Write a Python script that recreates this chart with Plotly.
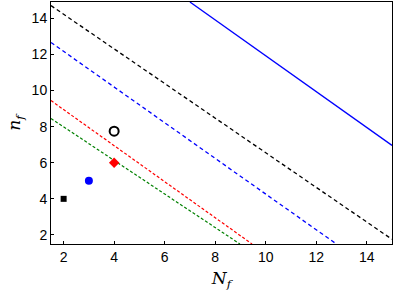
import plotly.graph_objects as go

# Boundary lines (endpoints)
line_names = ["blue_solid", "black_dash", "blue_dash", "red_dash", "green_dash"]
line_x = [[7.0, 15.0], [1.5, 15.0], [1.5, 12.8], [1.5, 9.46], [1.5, 8.98]]
line_y = [[14.9, 6.96], [14.7, 1.76], [12.66, 1.5], [9.44, 1.5], [8.45, 1.5]]
line_colors = ["#0000ff", "#000000", "#0000ff", "#ff0000", "#008000"]
line_dashes = ["solid", "4px,3px", "4px,3px", "3px,2px", "3px,2px"]
line_widths = [1.3, 1.3, 1.3, 1.2, 1.2]

# Points
pt_x = [2, 3, 4, 4]
pt_y = [4, 5, 6, 7.75]
pt_symbols = ["square", "circle", "diamond", "circle-open"]
pt_colors = ["#000000", "#0000ff", "#ff0000", "#000000"]
pt_sizes = [6, 8, 8, 9]

x_ticks = [2, 4, 6, 8, 10, 12, 14]
y_ticks = [2, 4, 6, 8, 10, 12, 14]

fig = go.Figure()
for i in range(len(line_names)):
    fig.add_trace(go.Scatter(
        x=line_x[i], y=line_y[i], mode="lines",
        line=dict(color=line_colors[i], dash=line_dashes[i], width=line_widths[i]),
        showlegend=False, hoverinfo="skip"))

for i in range(len(pt_x)):
    fig.add_trace(go.Scatter(
        x=[pt_x[i]], y=[pt_y[i]], mode="markers",
        marker=dict(symbol=pt_symbols[i], color=pt_colors[i], size=pt_sizes[i],
                    line=dict(color=pt_colors[i], width=2 if pt_symbols[i] == "circle-open" else 0)),
        showlegend=False))

axis_common = dict(
    showgrid=False, zeroline=False, showline=True, mirror=True,
    linecolor="black", linewidth=1, ticks="inside", ticklen=3, tickcolor="black",
    tickfont=dict(family="Liberation Sans, Arial, sans-serif", size=14, color="black"),
)

fig.update_layout(
    width=395, height=293,
    margin=dict(l=51, r=3, t=2, b=49),
    paper_bgcolor="white", plot_bgcolor="white",
    xaxis=dict(range=[1.5, 15], tickvals=x_ticks, ticktext=[str(v) for v in x_ticks],
               title=dict(text="<i>N</i><sub><i>f</i></sub>", standoff=8,
                          font=dict(family="DejaVu Serif, serif", size=17, color="black")),
               **axis_common),
    yaxis=dict(range=[1.5, 14.9], tickvals=y_ticks, ticktext=[str(v) for v in y_ticks],
               title=dict(text="<i>n</i><sub><i>f</i></sub>", standoff=6,
                          font=dict(family="DejaVu Serif, serif", size=17, color="black")),
               **axis_common),
)

fig.write_html("out.html",
               config={"displayModeBar": False},
               post_script="document.body.style.margin='0';document.body.style.overflow='hidden';")
